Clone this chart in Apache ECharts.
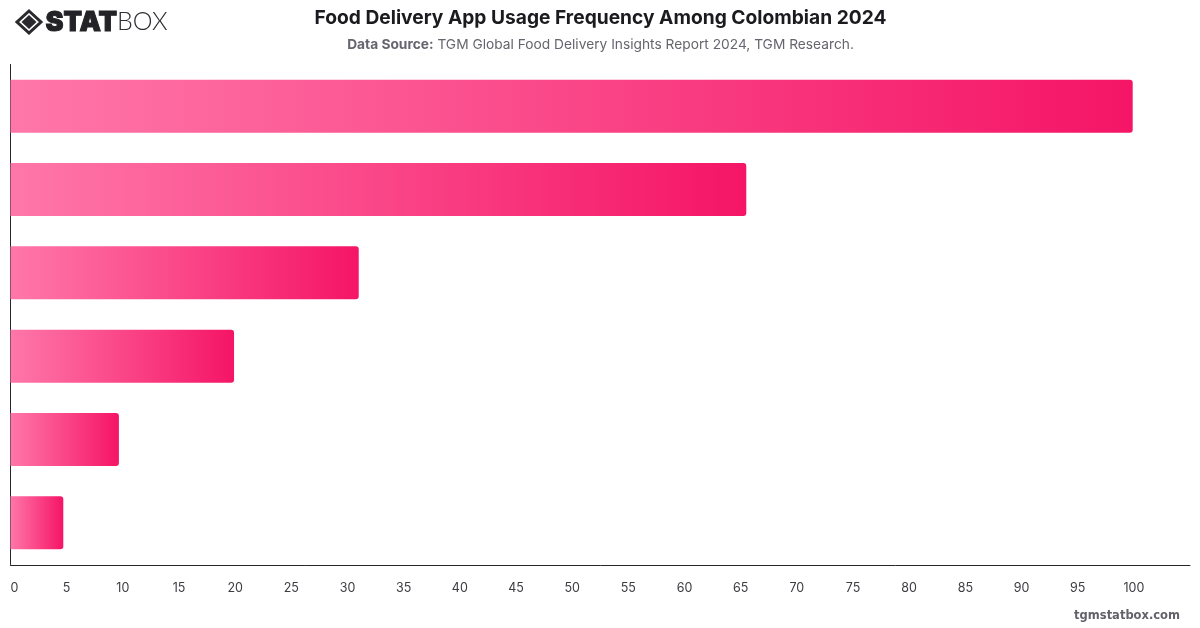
<!DOCTYPE html>
<html>
<head>
<meta charset="utf-8">
<style>html,body{margin:0;padding:0;background:#fff}#chart{width:1200px;height:628px}</style>
<script src="https://cdn.jsdelivr.net/npm/echarts@6/dist/echarts.min.js"></script>
</head>
<body>
<div id="chart"></div>
<script>
// Usage frequency shares, ranked from the most to the least common answer
const ranks = ['1', '2', '3', '4', '5', '6'];
const shares = [99.9, 65.5, 31, 19.9, 9.65, 4.7];
const axisMax = 105;
const axisStep = 5;

const titleText = 'Food Delivery App Usage Frequency Among Colombian 2024';
const sourceLabel = 'Data Source:';
const sourceText = ' TGM Global Food Delivery Insights Report 2024, TGM Research.';
const siteText = 'tgmstatbox.com';

const chart = echarts.init(document.getElementById('chart'), null, {renderer: 'canvas'});

const barFill = new echarts.graphic.LinearGradient(0, 0, 1, 0, [
  {offset: 0, color: '#ff77a9'},
  {offset: 1, color: '#f51566'}
]);

chart.setOption({
  animation: false,
  backgroundColor: '#ffffff',
  textStyle: {fontFamily: 'Inter'},
  title: {
    text: titleText,
    left: 595.5,
    top: 2,
    textAlign: 'center',
    textStyle: {fontFamily: 'Inter', fontSize: 19.2, fontWeight: 700, color: '#1b1b1f', lineHeight: 22},
    subtext: '{b|' + sourceLabel + '}{r|' + sourceText + '}',
    itemGap: 9,
    subtextStyle: {
      rich: {
        b: {fontFamily: 'Inter', fontSize: 13.75, fontWeight: 700, color: '#66656f'},
        r: {fontFamily: 'Inter', fontSize: 13.75, fontWeight: 400, color: '#66656f'}
      }
    }
  },
  grid: {left: 10.5, right: 10, top: 64.5, bottom: 63.5, containLabel: false},
  xAxis: {
    type: 'value',
    min: 0,
    max: axisMax,
    interval: axisStep,
    offset: 1,
    splitLine: {show: false},
    axisTick: {show: false},
    axisLine: {show: true, onZero: false, lineStyle: {color: '#26262a', width: 1}},
    axisLabel: {
      showMaxLabel: false,
      alignMinLabel: 'left',
      margin: 16,
      fontFamily: 'Inter',
      fontSize: 12.5,
      color: '#3c3c42'
    }
  },
  yAxis: {
    type: 'category',
    inverse: true,
    data: ranks,
    axisTick: {show: false},
    axisLabel: {show: false},
    axisLine: {show: true, lineStyle: {color: '#26262a', width: 1}}
  },
  series: [{
    type: 'bar',
    data: shares,
    barWidth: 53,
    itemStyle: {color: barFill, borderRadius: [0, 3, 3, 0]}
  }],
  graphic: [
    // Brand mark: outlined diamond around a solid centre
    {type: 'polygon', shape: {points: [[29, 11], [41, 22], [29, 33], [17, 22]]},
     style: {fill: 'none', stroke: '#2a2a2e', lineWidth: 3}},
    {type: 'polygon', shape: {points: [[29, 15], [36.5, 22], [29, 29], [21.5, 22]]},
     style: {fill: '#2a2a2e'}},
    {type: 'text', left: 45, top: 9,
     style: {text: 'STAT', fontFamily: 'Inter', fontSize: 27, fontWeight: 900, fill: '#232327', stroke: '#232327', lineWidth: 1}},
    {type: 'text', left: 117, top: 9,
     style: {text: 'BOX', fontFamily: 'Lato', fontSize: 25, fontWeight: 300, fill: '#2e2e33'}},
    {type: 'text', right: 20, top: 610,
     style: {text: siteText, fontFamily: 'DejaVu Sans', fontSize: 11.5, fontWeight: 700, fill: '#62626a'}}
  ]
});
</script>
</body>
</html>
